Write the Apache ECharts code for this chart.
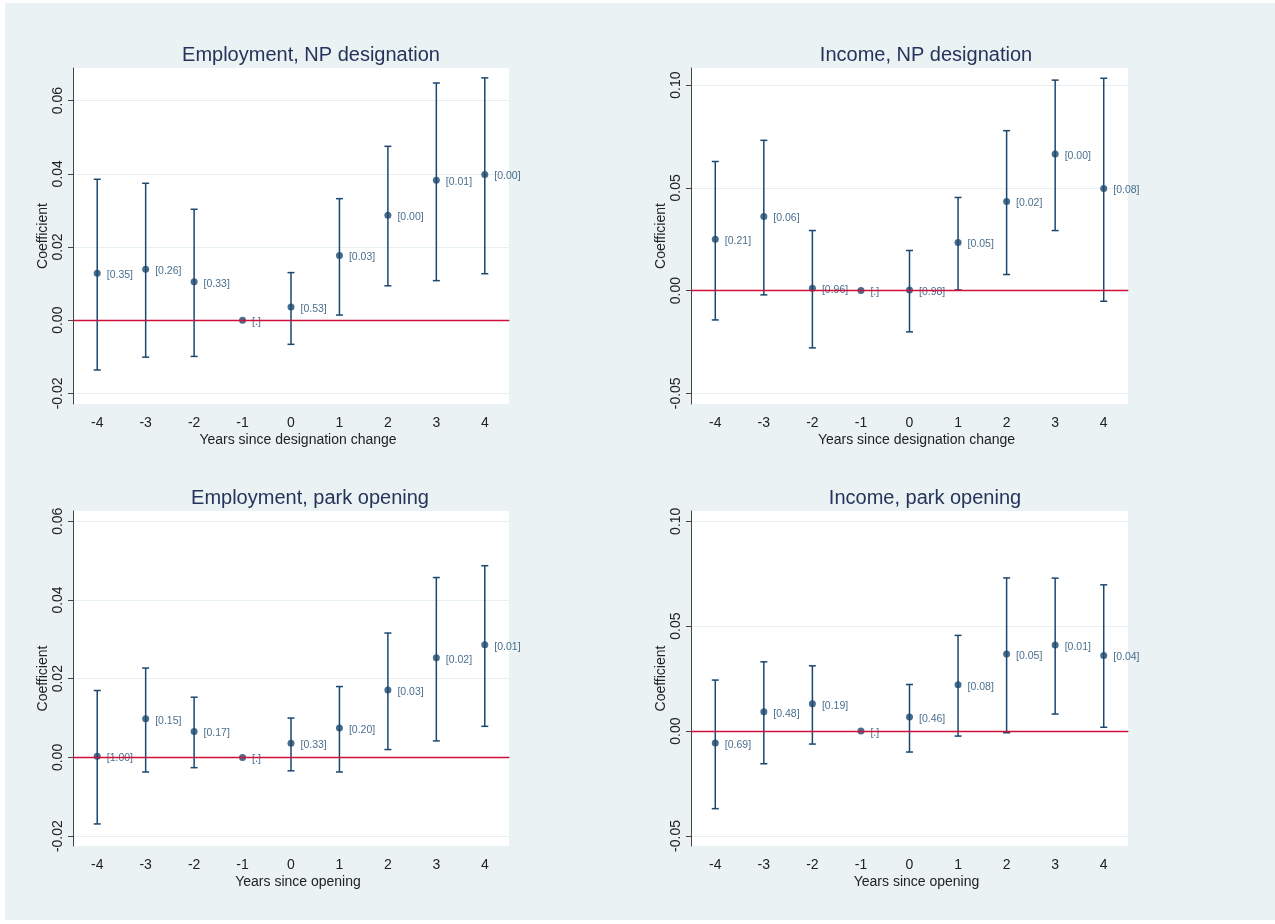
<!DOCTYPE html>
<html>
<head>
<meta charset="utf-8">
<script src="https://cdn.jsdelivr.net/npm/echarts@6/dist/echarts.min.js"></script>
<style>
html,body{margin:0;padding:0;background:#ffffff;}
#chart{width:1275px;height:924px;}
</style>
</head>
<body>
<div id="chart"></div>
<script>
// ---- data ----
const years = ['-4','-3','-2','-1','0','1','2','3','4'];

const empNpCoef = [0.0128, 0.0139, 0.0105, 0, 0.0036, 0.0177, 0.0287, 0.0382, 0.0398];
const empNpLo   = [-0.0136, -0.0101, -0.0099, null, -0.0066, 0.0014, 0.0094, 0.0108, 0.0127];
const empNpHi   = [0.0385, 0.0374, 0.0303, null, 0.0130, 0.0332, 0.0475, 0.0648, 0.0662];
const empNpP    = ['[0.35]','[0.26]','[0.33]','[.]','[0.53]','[0.03]','[0.00]','[0.01]','[0.00]'];

const incNpCoef = [0.0250, 0.0360, 0.0011, 0, 0.0003, 0.0234, 0.0433, 0.0664, 0.0497];
const incNpLo   = [-0.0143, -0.0021, -0.0279, null, -0.0201, 0.0003, 0.0078, 0.0292, -0.0052];
const incNpHi   = [0.0628, 0.0731, 0.0292, null, 0.0195, 0.0453, 0.0778, 0.1024, 0.1033];
const incNpP    = ['[0.21]','[0.06]','[0.96]','[.]','[0.98]','[0.05]','[0.02]','[0.00]','[0.08]'];

const empParkCoef = [0.0003, 0.0098, 0.0066, 0, 0.0036, 0.0075, 0.0171, 0.0253, 0.0286];
const empParkLo   = [-0.0169, -0.0037, -0.0026, null, -0.0034, -0.0037, 0.0020, 0.0042, 0.0079];
const empParkHi   = [0.0170, 0.0227, 0.0153, null, 0.0100, 0.0180, 0.0316, 0.0457, 0.0487];
const empParkP    = ['[1.00]','[0.15]','[0.17]','[.]','[0.33]','[0.20]','[0.03]','[0.02]','[0.01]'];

const incParkCoef = [-0.0057, 0.0092, 0.0130, 0, 0.0067, 0.0221, 0.0367, 0.0410, 0.0360];
const incParkLo   = [-0.0370, -0.0156, -0.0062, null, -0.0100, -0.0024, -0.0008, 0.0081, 0.0018];
const incParkHi   = [0.0243, 0.0330, 0.0311, null, 0.0222, 0.0456, 0.0730, 0.0729, 0.0697];
const incParkP    = ['[0.69]','[0.48]','[0.19]','[.]','[0.46]','[0.08]','[0.05]','[0.01]','[0.04]'];

const empTicks = [-0.02, 0.00, 0.02, 0.04, 0.06];
const incTicks = [-0.05, 0.00, 0.05, 0.10];

const titles = ['Employment, NP designation', 'Income, NP designation', 'Employment, park opening', 'Income, park opening'];
const xTitles = ['Years since designation change', 'Years since designation change', 'Years since opening', 'Years since opening'];
const yTitle = 'Coefficient';

// ---- layout / style ----
const FONT = '"Liberation Sans", Arial, Helvetica, sans-serif';
const NAVY = '#1A476F';
const panels = [
  {coef: empNpCoef, lo: empNpLo, hi: empNpHi, p: empNpP, ticks: empTicks, min: -0.0229, max: 0.0689, iv: 0.02,
   grid: {left: 73, top: 68, width: 436, height: 336}, titleX: 306, titleY: 40},
  {coef: incNpCoef, lo: incNpLo, hi: incNpHi, p: incNpP, ticks: incTicks, min: -0.0552, max: 0.1083, iv: 0.05,
   grid: {left: 691, top: 68, width: 437, height: 336}, titleX: 921, titleY: 40},
  {coef: empParkCoef, lo: empParkLo, hi: empParkHi, p: empParkP, ticks: empTicks, min: -0.0225, max: 0.0626, iv: 0.02,
   grid: {left: 73, top: 511, width: 436, height: 335}, titleX: 305, titleY: 483},
  {coef: incParkCoef, lo: incParkLo, hi: incParkHi, p: incParkP, ticks: incTicks, min: -0.0548, max: 0.1049, iv: 0.05,
   grid: {left: 691, top: 511, width: 437, height: 335}, titleX: 920, titleY: 483}
];

const option = {
  backgroundColor: '#ffffff',
  animation: false,
  graphic: [{type: 'rect', shape: {x: 5, y: 3, width: 1270, height: 917}, style: {fill: '#EAF2F3'}, z: -10, silent: true}],
  title: [], grid: [], xAxis: [], yAxis: [], series: []
};

panels.forEach((pn, i) => {
  option.title.push({
    text: titles[i], left: pn.titleX, top: pn.titleY, textAlign: 'center',
    textStyle: {fontFamily: FONT, fontSize: 20, fontWeight: 'normal', color: '#26335A'}
  });
  option.grid.push(Object.assign({show: true, backgroundColor: '#ffffff', borderWidth: 0, containLabel: false}, pn.grid));
  option.xAxis.push({
    type: 'category', gridIndex: i, data: years,
    name: xTitles[i], nameLocation: 'middle', nameGap: 29,
    nameTextStyle: {fontFamily: FONT, fontSize: 14, color: '#222', padding: [0, 0, 0, 14]},
    axisLine: {lineStyle: {color: '#444', width: 1}},
    axisTick: {alignWithLabel: true, length: 5, lineStyle: {color: '#444'}},
    axisLabel: {fontFamily: FONT, fontSize: 14, color: '#222', margin: 12},
    splitLine: {show: false}
  });
  option.yAxis.push({
    type: 'value', gridIndex: i, min: pn.min, max: pn.max,
    minInterval: pn.iv, maxInterval: pn.iv, splitNumber: 4,
    name: yTitle, nameLocation: 'middle', nameGap: 23,
    nameTextStyle: {fontFamily: FONT, fontSize: 14, color: '#222'},
    axisLine: {show: true, lineStyle: {color: '#444', width: 1}},
    axisTick: {show: true, length: 5, lineStyle: {color: '#444'}, customValues: pn.ticks},
    axisLabel: {fontFamily: FONT, fontSize: 14, color: '#222', rotate: 90, margin: 8,
      customValues: pn.ticks,
      formatter: v => v.toFixed(2)},
    splitLine: {show: true, lineStyle: {color: '#E6EFF1', width: 1}}
  });
  // error bars
  option.series.push({
    type: 'custom', xAxisIndex: i, yAxisIndex: i,
    data: years.map((y, k) => [k, pn.lo[k], pn.hi[k]]),
    renderItem: function (params, api) {
      const lo = api.value(1), hi = api.value(2);
      if (lo === null || hi === null || isNaN(lo) || isNaN(hi)) return null;
      const a = api.coord([api.value(0), lo]);
      const b = api.coord([api.value(0), hi]);
      const w = 3.5;
      const st = {stroke: NAVY, lineWidth: 1.5};
      return {type: 'group', children: [
        {type: 'line', shape: {x1: a[0], y1: a[1], x2: b[0], y2: b[1]}, style: st},
        {type: 'line', shape: {x1: a[0] - w, y1: a[1], x2: a[0] + w, y2: a[1]}, style: st},
        {type: 'line', shape: {x1: b[0] - w, y1: b[1], x2: b[0] + w, y2: b[1]}, style: st}
      ]};
    },
    z: 2
  });
  // points + labels + zero line
  option.series.push({
    type: 'scatter', xAxisIndex: i, yAxisIndex: i,
    data: pn.coef.map((c, k) => ({value: [k, c], lbl: pn.p[k]})),
    symbol: 'circle', symbolSize: 7,
    itemStyle: {color: NAVY},
    label: {show: true, position: 'right', distance: 6, offset: [0, 2],
      fontFamily: FONT, fontSize: 10.5, color: NAVY,
      formatter: p => p.data.lbl},
    markLine: {silent: true, symbol: 'none', label: {show: false},
      lineStyle: {color: '#D0103A', width: 1.3, type: 'solid'},
      data: [{yAxis: 0}]},
    z: 3
  });
});

const chart = echarts.init(document.getElementById('chart'), null, {renderer: 'canvas'});
chart.setOption(option);
</script>
</body>
</html>
